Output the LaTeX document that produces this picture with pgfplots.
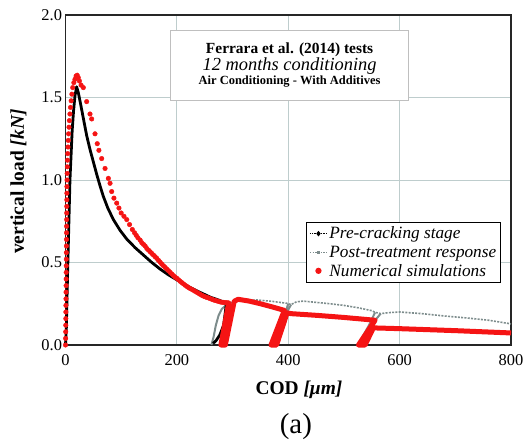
\documentclass[border=0pt]{standalone}
\usepackage{fontspec}
\setmainfont{Liberation Serif}
\usepackage{pgfplots}
\pgfplotsset{compat=1.18}
\definecolor{simred}{RGB}{245,20,20}
\definecolor{ptgray}{RGB}{125,140,140}
\definecolor{gridc}{RGB}{190,205,205}
\begin{document}
\begin{tikzpicture}
\useasboundingbox (-65.5bp,-103bp) rectangle (460.5bp,345bp);
\begin{axis}[
  at={(0,0)}, anchor=south west,
  width=445.5bp, height=330bp, scale only axis,
  xmin=0, xmax=800, ymin=0, ymax=2,
  xtick={0,200,...,800}, ytick={0,0.5,...,2},
  yticklabel style={/pgf/number format/.cd, fixed, fixed zerofill, precision=1},
  /pgf/number format/assume math mode=true,
  tick label style={font=\fontsize{16.5}{18}\selectfont},
  xticklabel style={yshift=-6bp},
  major tick length=0pt,
  grid=major, grid style={gridc, line width=1bp},
  axis line style={black!85, line width=1.5bp},
  xlabel={\textbf{COD \textit{[μm]}}},
  ylabel={\textbf{vertical load \textit{[kN]}}},
  label style={font=\fontsize{19.5}{22}\selectfont},
  xlabel style={at={(axis description cs:0.524,-0.135)}, anchor=center},
  ylabel style={at={(axis description cs:-0.1055,0.495)}, anchor=center},
  clip=false,
  legend style={at={(rel axis cs:0.978,0.373)}, anchor=north east, draw=black, line width=1bp,
    font=\fontsize{17.3}{19}\selectfont\itshape, row sep=1.5bp, inner sep=2.5bp, cells={anchor=west}},
]
\addlegendimage{black, line width=0.8bp, densely dotted, mark=diamond*, mark size=2.2bp, mark options={solid}}
\addlegendentry{Pre-cracking stage}
\addlegendimage{ptgray, line width=1bp, dash pattern=on 1.5bp off 1.2bp, mark=square*, mark size=1bp, mark options={solid}}
\addlegendentry{Post-treatment response}
\addlegendimage{only marks, mark=*, simred, mark size=2.6bp}
\addlegendentry{Numerical simulations}

% post-treatment response (main trend)
\addplot[forget plot, ptgray, line width=1.6bp, dash pattern=on 2bp off 1.3bp] coordinates {
(290,0.245) (300,0.262) (320,0.270) (343,0.273) (370,0.265) (397,0.253)
(405,0.245) (415,0.262) (427,0.266) (451,0.258) (475,0.250) (500,0.240) (525,0.226) (550,0.208) (556,0.198)
(566,0.190) (580,0.196) (600,0.200) (640,0.190) (680,0.176) (720,0.164) (760,0.150) (800,0.128)
};
% post-treatment unloading/reloading loops
\addplot[forget plot, ptgray, line width=2bp, line join=round] coordinates {
(262,0.0) (266,0.05) (270,0.12) (275,0.18) (281,0.22) (290,0.245)
};
\addplot[forget plot, ptgray, line width=2bp, line join=round] coordinates {
(400,0.250) (390,0.15) (378,0.05) (370,0.0) (374,0.0) (385,0.12) (398,0.20) (405,0.245)
};
\addplot[forget plot, ptgray, line width=2bp, line join=round] coordinates {
(556,0.198) (545,0.12) (535,0.06) (525,0.0) (530,0.0) (545,0.08) (556,0.15) (566,0.190)
};

% pre-cracking stage
\addplot[forget plot, black, line width=2.8bp, line join=round] coordinates {
(0,0) (1.5,0.1) (2.5,0.25) (3.5,0.4) (5,0.6) (6.5,0.8) (8,1.0) (10,1.15) (12,1.3) (14.5,1.42) (17,1.51) (20,1.565)
(23,1.53) (26,1.48) (30,1.41) (34,1.34) (38,1.27) (44,1.185) (50,1.11) (56,1.035) (62,0.965) (68,0.90)
(76,0.83) (86,0.76) (98,0.695) (110,0.642) (125,0.59) (140,0.545) (155,0.50) (170,0.46) (185,0.425)
(200,0.395) (220,0.355) (241,0.32) (260,0.29) (277,0.27) (289,0.253)
(284,0.12) (277,0.06) (270,0.025) (265,0.01)
};

% numerical simulations: dots
\addplot[forget plot, only marks, mark=*, simred, mark size=2.3bp] coordinates {
(0,0) (0.2,0.04) (0.4,0.08) (0.5,0.12) (0.6,0.16) (0.7,0.2) (0.8,0.24) (0.9,0.28) (1.0,0.32) (1.1,0.36)
(1.2,0.40) (1.3,0.44) (1.4,0.48) (1.5,0.52) (1.6,0.56) (1.7,0.60) (1.8,0.64) (1.9,0.68) (2.0,0.72)
(2.1,0.76) (2.2,0.80) (2.3,0.84) (2.4,0.88) (2.5,0.92) (2.6,0.96) (2.8,1.00) (3.0,1.04) (3.3,1.08)
(3.6,1.12) (4.0,1.16) (4.5,1.20) (5.0,1.24) (5.6,1.28) (6.3,1.32) (7.0,1.36) (8.0,1.40) (9.0,1.44)
(10.2,1.48) (11.5,1.52) (13,1.56) (15,1.59) (17,1.61) (19,1.63) (21,1.635) (23,1.62) (25,1.60)
(28,1.575) (32,1.56) (38,1.475) (44,1.40) (47,1.37) (53,1.28) (57,1.22) (60,1.18) (65,1.13) (71,1.07)
(77,1.01) (80,0.98) (83,0.93) (87,0.89) (92,0.86) (96,0.83) (100,0.80) (105,0.78) (110,0.76)
(115,0.73) (120,0.70) (124,0.68) (127,0.665) (130,0.65) (134,0.636) (137,0.62) (140,0.61) (143,0.60)
(146,0.585) (149,0.575) (152,0.565) (155,0.555) (158,0.545) (161,0.535) (164,0.525) (167,0.513)
(170,0.502) (173,0.49) (176,0.48) (179,0.47) (182,0.46) (185,0.45) (188,0.44) (191,0.43) (194,0.42)
(197,0.411) (200,0.404) (203,0.395) (206,0.386) (209,0.378) (212,0.37) (215,0.362) (218,0.355)
(221,0.348) (224,0.342) (227,0.337) (230,0.331) (233,0.325) (236,0.319) (239,0.313) (242,0.307)
(245,0.301) (248,0.296) (251,0.292) (254,0.288) (257,0.285) (260,0.281) (263,0.277) (266,0.273)
(269,0.27) (272,0.267) (275,0.264) (278,0.261) (281,0.259) (284,0.258) (287,0.257) (290,0.256) (293,0.255)
};
% numerical simulations: dense tail with unloading/reloading
\addplot[forget plot, simred, line width=5bp, line join=round] coordinates {
(293,0.255) (279,0.0) (287,0.0) (303,0.265) (310,0.277) (330,0.266) (350,0.250) (370,0.232) (393,0.21)
(369,0.0) (379,0.0) (398,0.195) (405,0.190) (450,0.180) (500,0.167) (546,0.153) (556,0.150)
(526,0.0) (538,0.0) (553,0.105) (560,0.103) (600,0.099) (650,0.093) (700,0.087) (750,0.08) (800,0.073)
};

\node[draw=gray!50, line width=1bp, fill=white, align=center, minimum width=238bp, minimum height=70bp, inner sep=2bp]
  at (rel axis cs:0.503,0.848)
  {\fontsize{15.5}{19}\selectfont\bfseries Ferrara et al. (2014) tests\\
   \fontsize{18.5}{20}\selectfont\itshape 12 months conditioning\\
   \fontsize{12.5}{16}\selectfont\bfseries Air Conditioning - With Additives};
\end{axis}
\node[font=\fontsize{29}{32}\selectfont] at ([xshift=7.6bp, yshift=-82bp]current axis.south) {(a)};
\end{tikzpicture}
\end{document}
